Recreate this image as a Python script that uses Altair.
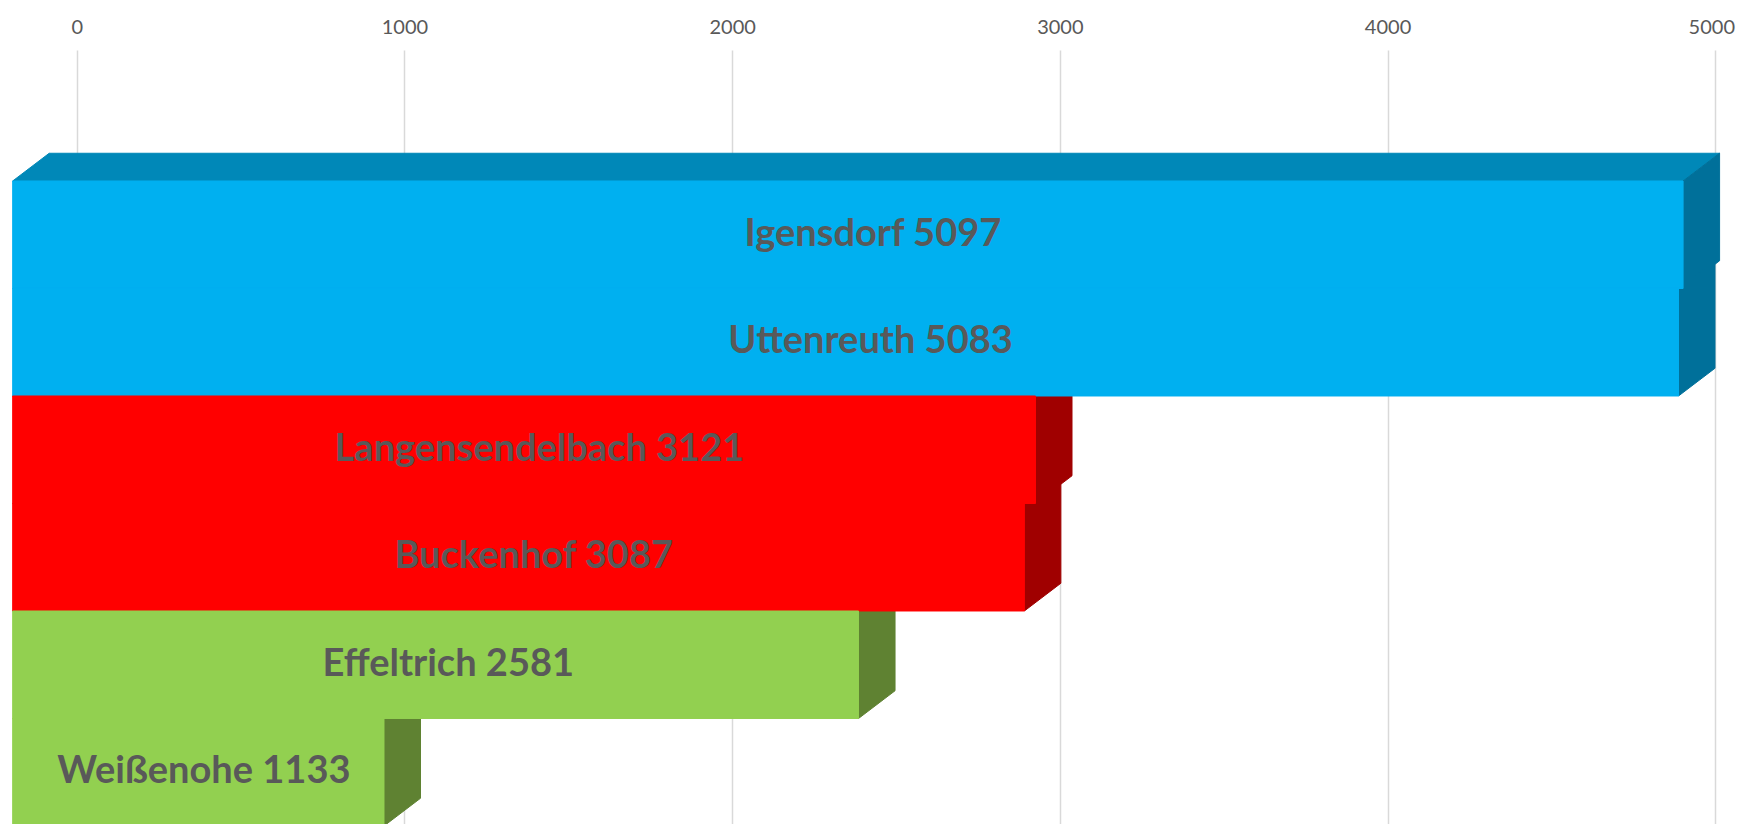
import altair as alt
import pandas as pd

# ---- data ----
names = ["Igensdorf", "Uttenreuth", "Langensendelbach", "Buckenhof", "Effeltrich", "Weißenohe"]
values = [5097, 5083, 3121, 3087, 2581, 1133]
front_colors = ["#00B0F0", "#00B0F0", "#FF0000", "#FF0000", "#92D050", "#92D050"]
top_colors = ["#0088B8", "#0088B8", "#C00000", "#C00000", "#74A83E", "#74A83E"]
side_colors = ["#00709A", "#00709A", "#A00000", "#A00000", "#5F8232", "#5F8232"]
tick_values = [0, 1000, 2000, 3000, 4000, 5000]

# ---- 3D projection style constants ----
SHIFT = -195.3   # front face shifted left (axis units)
DX = 111.4       # depth along x (axis units)
DY = 0.258       # depth along y (row units)
LABEL_POS = 0.515  # label anchor as a fraction of the bar length

rows = list(range(len(names)))

front = pd.DataFrame({"name": names, "value": values, "row": rows, "color": front_colors})
front["x"] = SHIFT
front["x2"] = front["value"] + SHIFT
front["y"] = front["row"]
front["y2"] = front["row"] + 1
front["ym"] = front["row"] + 0.5
front["xm"] = front["value"] * LABEL_POS + SHIFT
front["label"] = front["name"] + " " + front["value"].astype(str)

side_recs = []
top_recs = []
for n, v, r, sc, tc in zip(names, values, rows, side_colors, top_colors):
    xr = v + SHIFT
    side_recs.append({"name": n, "color": sc, "x": xr, "y": r, "y2": r + 1})
    side_recs.append({"name": n, "color": sc, "x": xr + DX, "y": r - DY, "y2": r + 1 - DY})
    top_recs.append({"name": n, "color": tc, "y": r, "x": SHIFT, "x2": xr})
    top_recs.append({"name": n, "color": tc, "y": r - DY, "x": SHIFT + DX, "x2": xr + DX})
side = pd.DataFrame(side_recs)
top = pd.DataFrame(top_recs)

xscale = alt.Scale(domain=[-209.6, 5063.2], nice=False, zero=False)
yscale = alt.Scale(domain=[-1.2186, 5.9814], nice=False, zero=False, reverse=True)
xaxis = alt.Axis(orient="top", values=tick_values, format="d", grid=True, gridColor="#D9D9D9",
                 gridWidth=1.5, domain=False, ticks=False, tickSize=0,
                 labelFont="Lato", labelFontSize=20, labelColor="#595959",
                 labelPadding=13, labelFlush=False, title=None,
                 labelOffset=alt.ExprRef(expr="datum.value == 5000 ? -4 : 0"))

X = lambda f: alt.X(f, type="quantitative", scale=xscale, axis=xaxis)
Y = lambda f: alt.Y(f, type="quantitative", scale=yscale, axis=None)

top_layer = alt.Chart(top).mark_area(orient="horizontal", interpolate="linear", strokeWidth=1).encode(
    y=Y("y"), x=X("x"), x2="x2",
    detail="name:N", color=alt.Color("color:N", scale=None),
    stroke=alt.Stroke("color:N", scale=None),
)

side_layer = alt.Chart(side).mark_area(orient="vertical", interpolate="linear", strokeWidth=1).encode(
    x=X("x"), y=Y("y"), y2="y2",
    detail="name:N", color=alt.Color("color:N", scale=None),
    stroke=alt.Stroke("color:N", scale=None),
)

front_layer = alt.Chart(front).mark_rect(strokeWidth=1).encode(
    x=X("x"), x2="x2", y=Y("y"), y2="y2",
    color=alt.Color("color:N", scale=None),
    stroke=alt.Stroke("color:N", scale=None),
)

text_layer = alt.Chart(front).mark_text(
    font="Lato", fontWeight="bold", fontSize=38, color="#595959",
    align="center", baseline="middle",
).encode(x=X("xm"), y=Y("ym"), text="label:N")

chart = alt.layer(top_layer, side_layer, front_layer, text_layer).properties(
    width=1728, height=774,
    autosize=alt.AutoSizeParams(type="none"),
    padding={"left": 0, "top": 42, "right": 0, "bottom": 0},
).configure_view(stroke=None)

chart.save("out.html", embed_options={"renderer": "svg", "actions": False})
